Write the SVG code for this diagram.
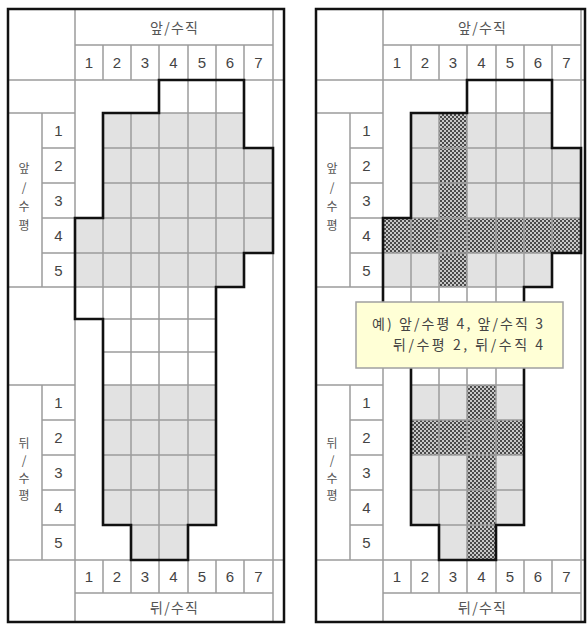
<svg xmlns="http://www.w3.org/2000/svg" xmlns:xlink="http://www.w3.org/1999/xlink" width="588" height="626" viewBox="0 0 588 626">
<style>
.grid{fill:none;stroke:#9c9c9c;stroke-width:1.5}
.fill{fill:#e2e2e2}
.hatch{fill:url(#hatch)}
.outline{fill:none;stroke:#111;stroke-width:2.6;stroke-linejoin:miter}
.border{fill:none;stroke:#111;stroke-width:2.5}
.num{font-family:"Liberation Sans",Arial,sans-serif;font-size:15px;fill:#444;text-anchor:middle}
.kor{font-family:"Noto Sans CJK KR","Noto Sans",sans-serif;font-size:14px;fill:#555;text-anchor:middle}
.vkor{font-family:"Noto Sans CJK KR","Noto Sans",sans-serif;font-size:12px;fill:#555;text-anchor:middle}
.note{font-family:"Noto Sans CJK KR","Noto Sans",sans-serif;font-size:14px;fill:#444;text-anchor:end}
.callout{fill:#ffffd6;stroke:#a0a0a0;stroke-width:1.5}
</style>
<defs>
<pattern id="hatch" width="4" height="4" patternUnits="userSpaceOnUse">
<rect width="4" height="4" fill="#c8c8c8"/>
<rect x="0" y="0" width="2" height="2" fill="#4a4a4a"/>
<rect x="2" y="2" width="2" height="2" fill="#4a4a4a"/>
</pattern>
<g id="fills">
<rect class="fill" x="103" y="113" width="141" height="35"/>
<rect class="fill" x="103" y="148" width="170" height="35"/>
<rect class="fill" x="103" y="183" width="170" height="35"/>
<rect class="fill" x="75" y="218" width="198" height="35"/>
<rect class="fill" x="75" y="253" width="169" height="34"/>
<rect class="fill" x="103" y="385" width="113" height="140"/>
<rect class="fill" x="131" y="525" width="57" height="35"/>
</g>
<path id="gridlines" class="grid" d="M103,113H244M103,148H273M103,183H273M75,218H273M75,253H273M75,287H244M75,319H216M103,352H216M103,385H216M103,420H216M103,455H216M103,490H216M103,525H216M103,218V319M131,113V560M159,113V560M188,80V560M216,80V287M244,148V253M75,10V622M273,10V622M42,113V287M42,385V560M75,45H273M8,113H75M42,148H75M42,183H75M42,218H75M42,253H75M8,287H75M8,385H75M42,420H75M42,455H75M42,490H75M42,525H75M75,593H273M103,45V80M131,45V80M159,45V80M188,45V80M216,45V80M244,45V80M103,560V593M131,560V593M159,560V593M188,560V593M216,560V593M244,560V593"/>
<path id="shape" class="outline" d="M159,80H244V148H273V253H244V287H216V525H188V560H131V525H103V319H75V218H103V113H159Z"/>
</defs>

<g id="panel-left">
<use xlink:href="#fills"/>
<use xlink:href="#gridlines"/>
<path class="grid" d="M8,80H284M8,560H284"/>
<use xlink:href="#shape"/>
<rect class="border" x="8" y="9" width="276" height="613"/>
<text class="kor" x="174" y="33" textLength="48">앞/수직</text>
<text class="num" x="89" y="68">1</text><text class="num" x="117" y="68">2</text><text class="num" x="145" y="68">3</text><text class="num" x="173.5" y="68">4</text><text class="num" x="202" y="68">5</text><text class="num" x="230" y="68">6</text><text class="num" x="258.5" y="68">7</text>
<text class="num" x="58.5" y="136">1</text><text class="num" x="58.5" y="171">2</text><text class="num" x="58.5" y="206">3</text><text class="num" x="58.5" y="241">4</text><text class="num" x="58.5" y="275.5">5</text>
<text class="vkor"><tspan x="24" y="172.5">앞</tspan><tspan x="24" y="191.5">/</tspan><tspan x="24" y="210.5">수</tspan><tspan x="24" y="229.5">평</tspan></text>
<text class="num" x="58.5" y="408">1</text><text class="num" x="58.5" y="443">2</text><text class="num" x="58.5" y="478">3</text><text class="num" x="58.5" y="513">4</text><text class="num" x="58.5" y="548">5</text>
<text class="vkor"><tspan x="24" y="447.5">뒤</tspan><tspan x="24" y="465">/</tspan><tspan x="24" y="482.5">수</tspan><tspan x="24" y="500">평</tspan></text>
<text class="num" x="89" y="582">1</text><text class="num" x="117" y="582">2</text><text class="num" x="145" y="582">3</text><text class="num" x="173.5" y="582">4</text><text class="num" x="202" y="582">5</text><text class="num" x="230" y="582">6</text><text class="num" x="258.5" y="582">7</text>
<text class="kor" x="174" y="613" textLength="48">뒤/수직</text>
</g>

<g id="panel-right">
<g transform="translate(308,0)">
<use xlink:href="#fills"/>
<rect class="hatch" x="75" y="218" width="198" height="35"/>
<rect class="hatch" x="131" y="113" width="28" height="174"/>
<rect class="hatch" x="103" y="420" width="113" height="35"/>
<rect class="hatch" x="159" y="385" width="29" height="175"/>
<use xlink:href="#gridlines"/>
<path class="grid" d="M8,80H277M8,560H277"/>
<use xlink:href="#shape"/>
</g>
<rect class="border" x="316" y="9" width="269" height="613"/>
<text class="kor" x="482" y="33" textLength="48">앞/수직</text>
<text class="num" x="397" y="68">1</text><text class="num" x="425" y="68">2</text><text class="num" x="453" y="68">3</text><text class="num" x="481.5" y="68">4</text><text class="num" x="510" y="68">5</text><text class="num" x="538" y="68">6</text><text class="num" x="566.5" y="68">7</text>
<text class="num" x="366.5" y="136">1</text><text class="num" x="366.5" y="171">2</text><text class="num" x="366.5" y="206">3</text><text class="num" x="366.5" y="241">4</text><text class="num" x="366.5" y="275.5">5</text>
<text class="vkor"><tspan x="332" y="172.5">앞</tspan><tspan x="332" y="191.5">/</tspan><tspan x="332" y="210.5">수</tspan><tspan x="332" y="229.5">평</tspan></text>
<text class="num" x="366.5" y="408">1</text><text class="num" x="366.5" y="443">2</text><text class="num" x="366.5" y="478">3</text><text class="num" x="366.5" y="513">4</text><text class="num" x="366.5" y="548">5</text>
<text class="vkor"><tspan x="332" y="447.5">뒤</tspan><tspan x="332" y="465">/</tspan><tspan x="332" y="482.5">수</tspan><tspan x="332" y="500">평</tspan></text>
<text class="num" x="397" y="582">1</text><text class="num" x="425" y="582">2</text><text class="num" x="453" y="582">3</text><text class="num" x="481.5" y="582">4</text><text class="num" x="510" y="582">5</text><text class="num" x="538" y="582">6</text><text class="num" x="566.5" y="582">7</text>
<text class="kor" x="482" y="613" textLength="48">뒤/수직</text>
</g>

<g id="callout">
<rect class="callout" x="356" y="302" width="207" height="66"/>
<text class="note" x="543" y="329" textLength="171">예) 앞/수평 4, 앞/수직 3</text>
<text class="note" x="543" y="349.5" textLength="150">뒤/수평 2, 뒤/수직 4</text>
</g>
</svg>
